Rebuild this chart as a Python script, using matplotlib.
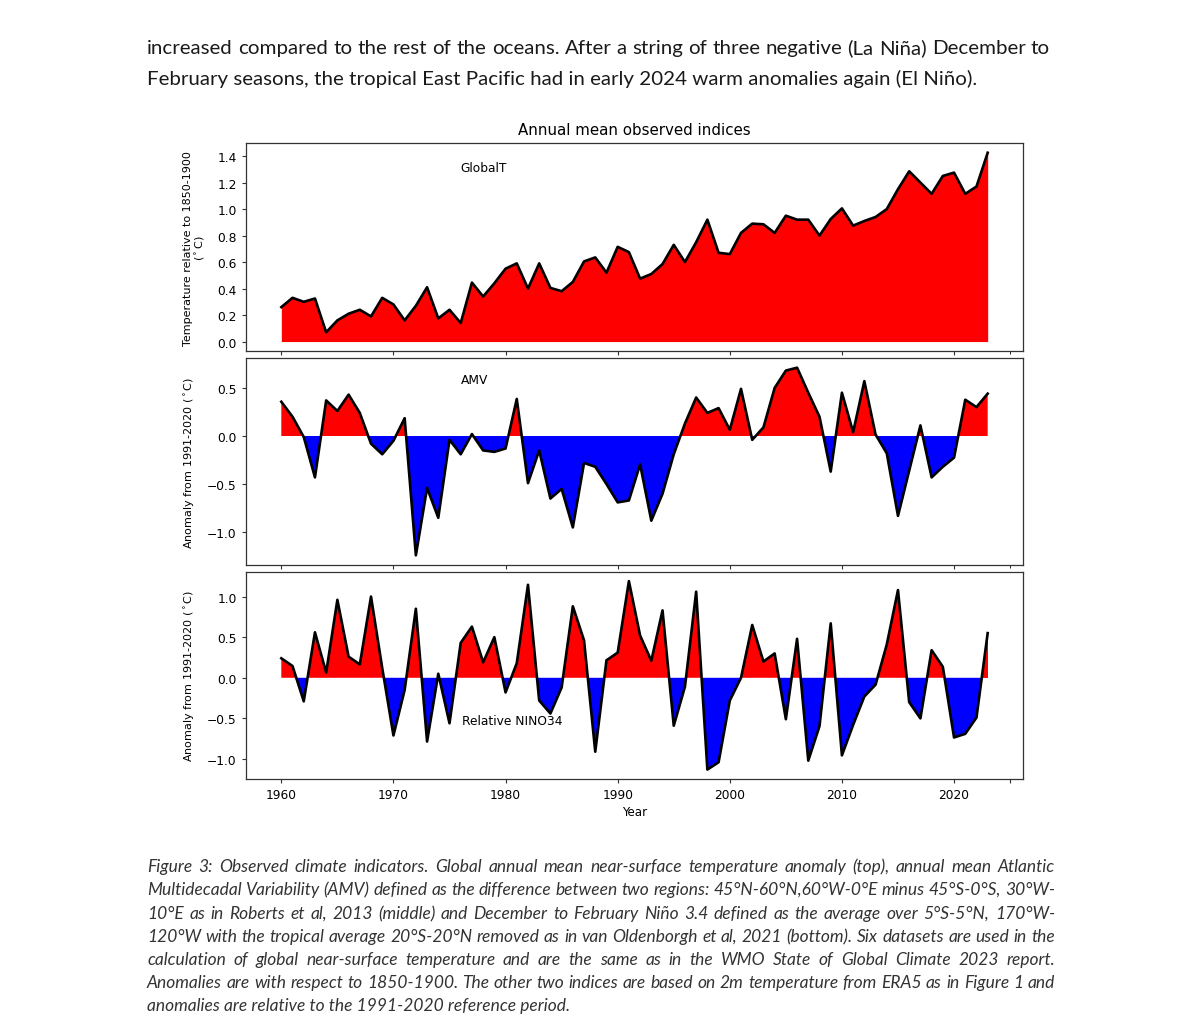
import matplotlib
matplotlib.use("Agg")
import matplotlib.pyplot as plt
import numpy as np

# ---------------- data ----------------
years = list(range(1960, 2024))
global_t = [0.26, 0.33, 0.30, 0.325, 0.07, 0.16, 0.21, 0.24, 0.19, 0.33,
            0.28, 0.16, 0.27, 0.41, 0.175, 0.24, 0.14, 0.445, 0.34, 0.44,
            0.55, 0.59, 0.40, 0.59, 0.405, 0.38, 0.45, 0.605, 0.635, 0.52,
            0.715, 0.675, 0.475, 0.51, 0.585, 0.73, 0.60, 0.75, 0.92, 0.67,
            0.66, 0.82, 0.89, 0.885, 0.82, 0.95, 0.92, 0.92, 0.80, 0.925,
            1.005, 0.875, 0.91, 0.94, 1.00, 1.15, 1.285, 1.20, 1.115, 1.25,
            1.275, 1.115, 1.17, 1.425]
amv = [0.356, 0.20, -0.01, -0.43, 0.37, 0.26, 0.43, 0.24, -0.08, -0.19,
       -0.05, 0.185, -1.24, -0.54, -0.85, -0.04, -0.19, 0.02, -0.15, -0.165,
       -0.13, 0.385, -0.49, -0.15, -0.65, -0.55, -0.95, -0.28, -0.32, -0.50,
       -0.69, -0.67, -0.295, -0.88, -0.60, -0.19, 0.13, 0.40, 0.24, 0.29,
       0.065, 0.49, -0.04, 0.09, 0.50, 0.68, 0.71, 0.45, 0.20, -0.37,
       0.45, 0.04, 0.57, 0.015, -0.18, -0.83, -0.36, 0.11, -0.43, -0.32,
       -0.225, 0.377, 0.30, 0.44]
nino34 = [0.24, 0.145, -0.29, 0.56, 0.065, 0.96, 0.26, 0.165, 1.00, 0.12,
          -0.71, -0.15, 0.85, -0.785, 0.05, -0.56, 0.43, 0.63, 0.19, 0.50,
          -0.18, 0.18, 1.145, -0.28, -0.44, -0.12, 0.88, 0.46, -0.91, 0.215,
          0.31, 1.19, 0.52, 0.21, 0.83, -0.59, -0.11, 1.06, -1.13, -1.04,
          -0.28, 0.0, 0.65, 0.20, 0.30, -0.51, 0.48, -1.02, -0.595, 0.67,
          -0.955, -0.58, -0.23, -0.085, 0.41, 1.08, -0.30, -0.50, 0.34, 0.135,
          -0.735, -0.69, -0.49, 0.55]

decade_ticks = [1960, 1970, 1980, 1990, 2000, 2010, 2020]

title = "Annual mean observed indices"
ylabel_top = "Temperature relative to 1850-1900\n($^\\circ$C)"
ylabel_anom = "Anomaly from 1991-2020 ($^\\circ$C)"
panel_names = ["GlobalT", "AMV", "Relative NINO34"]

para_lines = [
    "increased compared to the rest of the oceans. After a string of three negative (La Niña) December to",
    "February seasons, the tropical East Pacific had in early 2024 warm anomalies again (El Niño).",
]
caption_lines = [
    "Figure 3: Observed climate indicators. Global annual mean near-surface temperature anomaly (top), annual mean Atlantic",
    "Multidecadal Variability (AMV) defined as the difference between two regions: 45°N-60°N,60°W-0°E minus 45°S-0°S, 30°W-",
    "10°E as in Roberts et al, 2013 (middle) and December to February Niño 3.4 defined as the average over 5°S-5°N, 170°W-",
    "120°W with the tropical average 20°S-20°N removed as in van Oldenborgh et al, 2021 (bottom). Six datasets are used in the",
    "calculation of global near-surface temperature and are the same as in the WMO State of Global Climate 2023 report.",
    "Anomalies are with respect to 1850-1900. The other two indices are based on 2m temperature from ERA5 as in Figure 1 and",
    "anomalies are relative to the 1991-2020 reference period.",
]

# ---------------- figure ----------------
W, H = 1200, 1020
fig = plt.figure(figsize=(W / 100, H / 100), dpi=100)
fig.patch.set_facecolor("white")

def fx(px):
    return px / W

def fy(py):
    return 1 - py / H

left, right = 246, 1023
ax1 = fig.add_axes([fx(left), fy(352), (right - left) / W, (352 - 144.3) / H])
ax2 = fig.add_axes([fx(left), fy(565.7), (right - left) / W, (565.7 - 359.3) / H], sharex=ax1)
ax3 = fig.add_axes([fx(left), fy(780), (right - left) / W, (780 - 572.7) / H], sharex=ax1)

yrs = np.array(years, dtype=float)
LW = 1.9

# top panel
gt = np.array(global_t)
ax1.fill_between(yrs, 0, gt, color="#ff0000", linewidth=0)
ax1.plot(yrs, gt, color="black", lw=LW)

for ax, vals in ((ax2, np.array(amv)), (ax3, np.array(nino34))):
    ax.fill_between(yrs, 0, vals, where=vals >= 0, interpolate=True, color="#ff0000", linewidth=0)
    ax.fill_between(yrs, 0, vals, where=vals <= 0, interpolate=True, color="#0000ff", linewidth=0)
    ax.plot(yrs, vals, color="black", lw=LW)

TICK_FS = 8.8
for ax in (ax1, ax2, ax3):
    ax.tick_params(labelsize=TICK_FS, length=3.2, width=0.8, color="#333333")
    for s in ax.spines.values():
        s.set_color("#333333")
        s.set_linewidth(0.9)

ax3.set_xticks(decade_ticks)
ax3.set_xticks([2025], minor=True)
ax3.tick_params(axis="x", which="minor", length=3.2, width=0.8, color="#333333")
ax1.tick_params(axis="x", labelbottom=False)
ax2.tick_params(axis="x", labelbottom=False)

ax1.set_yticks([0.0, 0.2, 0.4, 0.6, 0.8, 1.0, 1.2, 1.4])
ax2.set_yticks([-1.0, -0.5, 0.0, 0.5])
ax3.set_yticks([-1.0, -0.5, 0.0, 0.5, 1.0])

ax1.set_title(title, fontsize=10.8, pad=7)
ax3.set_xlabel("Year", fontsize=8.6, labelpad=3)

ax1.set_ylabel(ylabel_top, fontsize=8, linespacing=1.1)
ax2.set_ylabel(ylabel_anom, fontsize=8)
ax3.set_ylabel(ylabel_anom, fontsize=8)
for ax, xpix in ((ax1, 195), (ax2, 190), (ax3, 190)):
    ax.yaxis.set_label_coords((xpix - left) / (right - left), 0.5)
    ax.yaxis.label.set_verticalalignment("center")

ax1.text(1976.0, 1.31, panel_names[0], fontsize=8.8, va="center")
ax2.text(1976.0, 0.59, panel_names[1], fontsize=8.8, va="center")
ax3.text(1976.1, -0.53, panel_names[2], fontsize=8.8, va="center")

# ---------------- document text ----------------
renderer = fig.canvas.get_renderer()
FONT = ["Lato", "DejaVu Sans"]

def text_width(s, size, style):
    t = fig.text(0, 0, s, fontsize=size, family=FONT, style=style)
    w = t.get_window_extent(renderer).width
    t.remove()
    return w

def fit_size(s, target, style):
    return 10 * target / text_width(s, 10, style)

def put_line(s, x0, base, size, style, color, x1=None):
    if x1 is None:
        fig.text(fx(x0), fy(base), s, fontsize=size, family=FONT, style=style,
                 color=color, va="baseline", ha="left")
        return
    words = s.split(" ")
    widths = [text_width(w, size, style) for w in words]
    gap = (x1 - x0 - sum(widths)) / (len(words) - 1)
    x = x0
    for w, wd in zip(words, widths):
        fig.text(fx(x), fy(base), w, fontsize=size, family=FONT, style=style,
                 color=color, va="baseline", ha="left")
        x += wd + gap

psize = fit_size(para_lines[1], 975 - 147, "normal")
put_line(para_lines[0], 147, 54, psize, "normal", "#1a1a1a", x1=1050)
put_line(para_lines[1], 147, 85, psize, "normal", "#1a1a1a")

csize = fit_size(caption_lines[-1], 567 - 147, "italic")
cbases = [872, 895, 919, 942, 965, 988, 1011]
for i, (s, b) in enumerate(zip(caption_lines, cbases)):
    put_line(s, 147, b, csize, "italic", "#333333", x1=None if i == len(caption_lines) - 1 else 1055)

fig.savefig("out.png", dpi=100, facecolor="white")
